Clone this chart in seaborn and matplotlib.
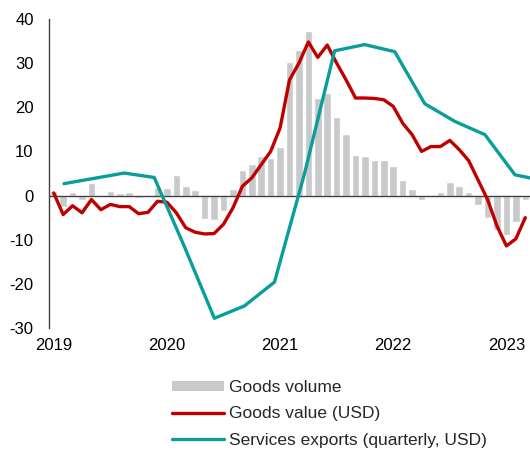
"""
Goods and services exports - annual % change
Monthly goods volume (bars), goods value in USD (line),
quarterly services exports in USD (line on a secondary category axis).
"""

import numpy as np
import pandas as pd
import matplotlib
matplotlib.use("Agg")
import matplotlib.pyplot as plt
import seaborn as sns
from matplotlib.patches import Patch
from matplotlib.lines import Line2D

# ---------- DATA ----------
# monthly, Jan 2019 .. Mar 2023
months = pd.date_range("2019-01-01", "2023-03-01", freq="MS")

goods_volume = [
    1.0, -2.5, 0.7, -1.1, 2.8, 0.0, 1.0, 0.5, 0.9, -0.6, -0.4, 1.9,
    1.7, 4.7, 2.1, 1.2, -5.2, -5.6, -3.6, 1.5, 5.7, 7.2, 9.0, 8.6,
    11.1, 30.3, 33.0, 37.2, 22.2, 23.2, 17.9, 13.9, 9.3, 8.9, 8.1, 8.1,
    6.7, 3.5, 1.5, -1.0, 0.1, 0.7, 3.0, 2.1, 0.8, -2.1, -5.0, -7.7,
    -9.0, -6.0, -0.9,
]

goods_value = [
    0.6, -4.3, -2.3, -3.9, -0.9, -3.2, -2.0, -2.5, -2.5, -4.1, -3.8, -1.3,
    -1.5, -3.9, -7.3, -8.3, -8.7, -8.6, -6.5, -2.8, 2.1, 4.0, 7.0, 10.0,
    15.3, 26.2, 30.0, 34.8, 31.3, 34.1, 30.0, 26.2, 22.1, 22.1, 22.0, 21.7,
    20.2, 16.4, 13.8, 10.0, 11.1, 11.1, 12.5, 10.4, 7.9, 3.5, -0.9, -6.9,
    -11.4, -9.8, -5.0,
]

# quarterly, 2019Q1 .. 2023Q1
quarters = pd.period_range("2019Q1", "2023Q1", freq="Q")
services = [
    2.7, 3.9, 5.1, 4.1, -11.5, -27.8, -25.0, -19.6, 5.0,
    32.8, 34.2, 32.6, 20.8, 16.8, 13.8, 4.7, 3.3,
]

year_labels = ["2019", "2020", "2021", "2022", "2023"]

GRAY = "#C8C9CB"
RED = "#C00000"
TEAL = "#0A9E9B"

df_m = pd.DataFrame({"pos": np.arange(len(months)),
                     "volume": goods_volume, "value": goods_value})
df_q = pd.DataFrame({"pos": np.arange(len(quarters)), "services": services})

# ---------- PLOT ----------
sns.set_theme(style="white")
plt.rcParams["font.family"] = ["Liberation Sans", "DejaVu Sans"]
plt.rcParams["axes.unicode_minus"] = False

fig = plt.figure(figsize=(5.3, 4.5), dpi=100)
ax = fig.add_axes([49 / 530, 1 - 328 / 450, 1 - 49 / 530, (328 - 19) / 450])

sns.barplot(data=df_m, x="pos", y="volume", native_scale=True, width=0.8,
            color=GRAY, saturation=1, ax=ax, zorder=1)
ax.axhline(0, color="#404040", lw=1, zorder=2)
sns.lineplot(data=df_m, x="pos", y="value", color=RED, lw=2.4, ax=ax, zorder=4)

# services on a secondary (quarterly) category axis spanning the same width
ax2 = ax.twiny()
sns.lineplot(data=df_q, x="pos", y="services", color=TEAL, lw=2.4, ax=ax2, zorder=3)
ax2.set_xlim(-0.5, 15.5)
ax2.set_xticks([])
ax2.set_xlabel("")
ax2.set_ylabel("")
for s in ax2.spines.values():
    s.set_visible(False)

ax.set_xlim(-0.5, len(months) - 0.5)
ax.set_ylim(-30, 40)
ax.set_yticks(range(-30, 41, 10))
ax.set_xticks(np.arange(0, len(months), 12))
ax.set_xticklabels(year_labels)
ax.set_xlabel("")
ax.set_ylabel("")
ax.tick_params(axis="both", length=0, labelsize=12, colors="black")
ax.tick_params(axis="y", pad=11)
ax.tick_params(axis="x", pad=7)
for side in ["top", "right", "bottom"]:
    ax.spines[side].set_visible(False)
ax.spines["left"].set_color("#404040")
ax.spines["left"].set_linewidth(1)

handles = [
    Patch(facecolor=GRAY, edgecolor="none"),
    Line2D([], [], color=RED, lw=2.4),
    Line2D([], [], color=TEAL, lw=2.4),
]
labels = ["Goods volume", "Goods value (USD)", "Services exports (quarterly, USD)"]
fig.legend(handles, labels, loc="upper left", bbox_to_anchor=(172 / 530, 1 - 380 / 450),
           frameon=False, fontsize=12.5, handlelength=3.0, handleheight=0.5,
           handletextpad=0.3, labelspacing=0.66, borderpad=0, borderaxespad=0)

fig.savefig("out.png", dpi=100)
